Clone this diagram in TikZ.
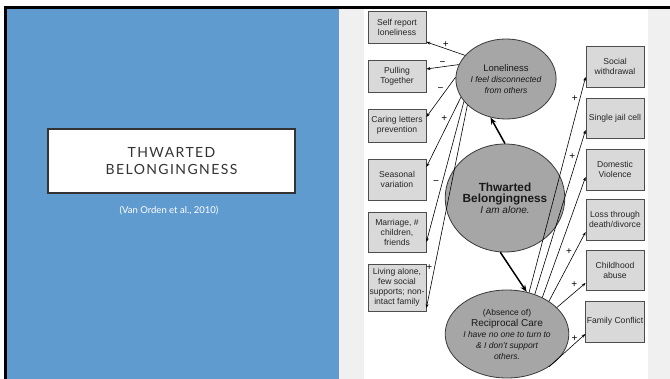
\documentclass[tikz,border=0pt]{standalone}
\usepackage{fontspec}
\setmainfont{Liberation Sans}
\newfontfamily\titlefont[LetterSpace=10]{Lato}
\newfontfamily\citefont{Lato}
\usetikzlibrary{arrows.meta,shapes.geometric}
\definecolor{slideblue}{RGB}{96,155,208}
\definecolor{panelgray}{RGB}{240,240,240}
\definecolor{titletext}{RGB}{51,51,51}
\definecolor{boxfill}{RGB}{217,217,217}
\definecolor{boxline}{RGB}{77,77,77}
\definecolor{ringfill}{RGB}{166,166,166}
\definecolor{ringline}{RGB}{58,58,58}

\begin{document}
\begin{tikzpicture}[x=1pt, y=-1pt, >={Stealth[length=4pt,width=3pt]},
SideBox/.style={draw=boxline, fill=boxfill, line width=0.8pt, minimum width=58pt, align=center, inner sep=1pt, text=black!85, font=\fontsize{8.6}{10}\selectfont},
Construct/.style={ellipse, draw=ringline, fill=ringfill, line width=0.8pt, inner sep=0pt, align=center, text=black!90, font=\fontsize{8.5}{11}\selectfont},
Sign/.style={inner sep=1pt, font=\fontsize{10}{10}\selectfont},
Link/.style={->, line width=0.6pt},
BigLink/.style={-{Stealth[length=7pt,width=5.5pt]}, line width=1.5pt}]

\useasboundingbox (0,0) rectangle (670,379);
\fill[white] (0,0) rectangle (670,379);
\fill[panelgray] (339,9) rectangle (670,379);
\fill[white] (364,9) rectangle (648,379);
\fill[slideblue] (7,9) rectangle (339,379);
\fill[black] (4,6) rectangle (670,9);
\fill[black] (4,6) rectangle (7,379);

\node[draw=titletext, fill=white, line width=1.3pt, minimum width=247pt, minimum height=64pt, align=center, text=titletext, font=\titlefont\fontsize{14}{17}\selectfont] (title) at (171.5,161) {THWARTED\\BELONGINGNESS};
\node[text=white, font=\citefont\fontsize{9.5}{11}\selectfont] (cite) at (169,211) {(Van Orden et al., 2010)};

\node[SideBox, minimum height=32pt] (b1) at (397,27) {Self report\\loneliness};
\node[SideBox, minimum height=32pt] (b2) at (397,76) {Pulling\\Together};
\node[SideBox, minimum height=33pt] (b3) at (397,125.5) {Caring letters\\prevention};
\node[SideBox, minimum height=41pt] (b4) at (397,179.5) {Seasonal\\variation};
\node[SideBox, minimum height=40pt] (b5) at (397,232) {Marriage, \#\\children,\\friends};
\node[SideBox, minimum height=47pt] (b6) at (397,287.5) {Living alone,\\few social\\supports; non-\\intact family};

\node[SideBox, minimum height=41pt] (r1) at (615,66.5) {Social\\withdrawal};
\node[SideBox, minimum height=40pt] (r2) at (615,118) {Single jail cell};
\node[SideBox, minimum height=41pt] (r3) at (615,169.5) {Domestic\\Violence};
\node[SideBox, minimum height=41pt] (r4) at (615,219.5) {Loss through\\death/divorce};
\node[SideBox, minimum height=40pt] (r5) at (615,270) {Childhood\\abuse};
\node[SideBox, minimum height=41pt] (r6) at (615,321.5) {Family Conflict};

\node[Construct, minimum width=98pt, minimum height=80pt] (lon) at (506,79) {{\fontsize{9.5}{11}\selectfont Loneliness}\\\itshape I feel disconnected\\\itshape from others};
\node[Construct, minimum width=108pt, minimum height=108pt] (tb) at (505,198) {{\bfseries\fontsize{11.8}{14}\selectfont Thwarted}\\{\bfseries\fontsize{11.8}{14}\selectfont Belongingness}\\{\itshape\fontsize{10}{14}\selectfont I am alone.}};
\node[Construct, minimum width=98pt, minimum height=88pt] (rc) at (507,334) {(Absence of)\\{\fontsize{10}{11}\selectfont Reciprocal Care}\\\itshape I have no one to turn to\\\itshape \& I don't support\\\itshape others.};

\draw[BigLink] (tb.north) -- (lon.248);
\draw[BigLink] (tb.265) -- (rc.65);

\draw[Link] (lon.150) -- ([yshift=-15pt]b1.east) node[Sign, midway, above] {+};
\draw[Link] (lon.163) -- ([yshift=7pt]b2.east) node[Sign, midway, above] {−};
\draw[Link] (lon.178) -- ([yshift=8.5pt]b3.east) node[Sign, pos=0.3, left=2pt] {−};
\draw[Link] (lon.202) -- ([yshift=12.5pt]b4.east) node[Sign, pos=0.3, left=2pt] {+};
\draw[Link] (lon.208) -- ([yshift=-10pt]b5.east) node[Sign, pos=0.58, left=2pt] {−};
\draw[Link] (lon.214) -- ([yshift=-20.5pt]b6.east) node[Sign, pos=0.8, left=1pt] {+};

\draw[Link] (rc.62) -- ([yshift=-10.5pt]r1.west) node[Sign, pos=0.9, left=1pt] {+};
\draw[Link] (rc.55) -- ([yshift=-12pt]r2.west) node[Sign, pos=0.84, left=1pt] {+};
\draw[Link] (rc.46) -- ([yshift=-7.5pt]r3.west);
\draw[Link] (rc.38) -- ([yshift=-12.5pt]r4.west) node[Sign, pos=0.66, above left=0pt] {+};
\draw[Link] (rc.28) -- ([yshift=-13pt]r5.west) node[Sign, pos=0.75, above left=0pt] {+};
\draw[Link] (rc.-38) -- ([yshift=-12.5pt]r6.west) node[Sign, pos=0.7, above=1pt] {+};

\end{tikzpicture}
\end{document}
